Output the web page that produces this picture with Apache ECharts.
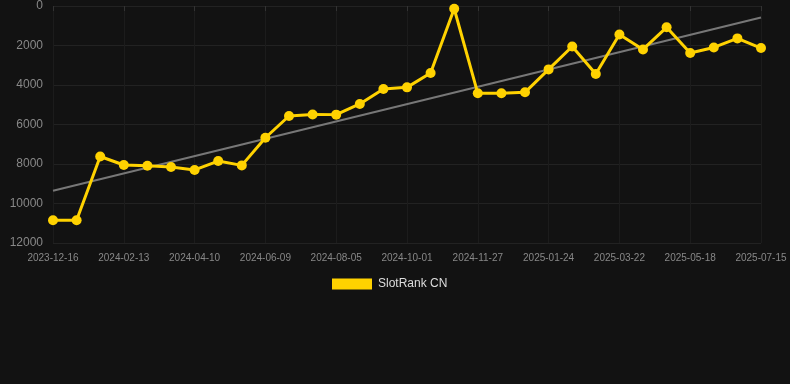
<!DOCTYPE html>
<html>
<head>
<meta charset="utf-8">
<script src="https://cdn.jsdelivr.net/npm/echarts@6/dist/echarts.min.js"></script>
<style>
  html, body { margin: 0; padding: 0; background: #121212; }
  #chart { width: 790px; height: 384px; }
</style>
</head>
<body>
<div id="chart"></div>
<script>
const dates = ['2023-12-16', '2024-01-05', '2024-01-24', '2024-02-13', '2024-03-03', '2024-03-22',
  '2024-04-10', '2024-04-30', '2024-05-20', '2024-06-09', '2024-06-28', '2024-07-17',
  '2024-08-05', '2024-08-24', '2024-09-12', '2024-10-01', '2024-10-20', '2024-11-08',
  '2024-11-27', '2024-12-16', '2025-01-04', '2025-01-24', '2025-02-12', '2025-03-03',
  '2025-03-22', '2025-04-10', '2025-04-29', '2025-05-18', '2025-06-06', '2025-06-25', '2025-07-15'];
const rank = [10850, 10850, 7620, 8050, 8090, 8150, 8300, 7850, 8070, 6670, 5570, 5490,
  5500, 4960, 4200, 4120, 3390, 140, 4420, 4420, 4370, 3210, 2050, 3440,
  1440, 2200, 1080, 2380, 2100, 1640, 2130];
const trendStart = 9350;
const trendEnd = 580;
const trend = dates.map((d, i) => i === 0 ? trendStart : (i === dates.length - 1 ? trendEnd : null));

let chart = echarts.init(document.getElementById('chart'));
chart.setOption({
  backgroundColor: '#121212',
  animation: false,
  grid: {
    left: 53,
    right: 29,
    top: 6,
    bottom: 141
  },
  legend: {
    top: 278,
    left: 332,
    itemWidth: 40,
    itemHeight: 11,
    itemGap: 10,
    padding: 0,
    data: [{name: 'SlotRank CN', icon: 'rect'}],
    textStyle: {color: '#dddddd', fontSize: 12, padding: [0, 0, 0, 1], fontFamily: 'Liberation Sans, Arial, sans-serif'}
  },
  xAxis: {
    type: 'category',
    boundaryGap: false,
    data: dates,
    axisLine: {show: false},
    axisTick: {show: true, interval: 2, alignWithLabel: true, lineStyle: {color: '#333'}},
    axisLabel: {interval: 2, color: '#888', fontSize: 10, margin: 10, fontFamily: 'Liberation Sans, Arial, sans-serif'},
    splitLine: {show: true, interval: 2, lineStyle: {color: '#1c1c1c'}}
  },
  yAxis: {
    type: 'value',
    inverse: true,
    min: 0,
    max: 12000,
    interval: 2000,
    axisLine: {show: false},
    axisTick: {show: false},
    axisLabel: {
      color: '#888', fontSize: 12, margin: 10,
      fontFamily: 'Liberation Sans, Arial, sans-serif',
      formatter: v => String(v)
    },
    splitLine: {lineStyle: {color: '#222'}}
  },
  series: [
    {
      name: 'SlotRank CN',
      type: 'line',
      data: rank,
      color: '#ffd200',
      symbol: 'circle',
      symbolSize: 10,
      lineStyle: {width: 3, color: '#ffd200'},
      itemStyle: {color: '#ffd200'},
      z: 3
    },
    {
      name: 'trend',
      type: 'line',
      data: trend,
      connectNulls: true,
      symbol: 'none',
      lineStyle: {width: 2, color: '#777'},
      z: 2
    }
  ]
});
</script>
</body>
</html>
